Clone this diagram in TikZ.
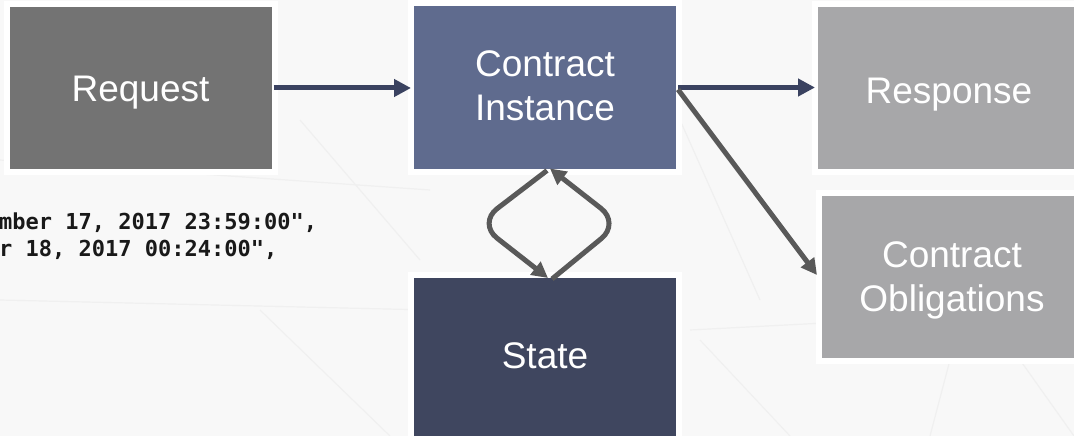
\documentclass[tikz,border=0pt]{standalone}
\usepackage{fontspec}
\setmainfont{Liberation Sans}
\newfontfamily\codefont{DejaVu Sans Mono}
\usetikzlibrary{arrows.meta,calc}

\definecolor{slidebg}{HTML}{F8F8F8}
\definecolor{faintline}{HTML}{F0F0F0}
\definecolor{reqgray}{HTML}{737373}
\definecolor{instblue}{HTML}{5F6B8E}
\definecolor{statenavy}{HTML}{3F465F}
\definecolor{outgray}{HTML}{A7A7A9}
\definecolor{navyarrow}{HTML}{3A4260}
\definecolor{grayarrow}{HTML}{595959}
\definecolor{titlemaroon}{HTML}{7B1D4E}

\tikzset{
  blockbox/.style={rectangle, minimum width=262pt, minimum height=162pt,
    inner sep=0pt, outer sep=0pt,
    preaction={draw=white, line width=12pt}},
  boxlabel/.style={text=white, inner sep=0pt, outer sep=0pt,
    font=\fontsize{37}{44}\selectfont, align=center},
  codeline/.style={anchor=base west, inner sep=0pt, text=black!90,
    font=\codefont\bfseries\fontsize{22}{27}\selectfont},
  flownavy/.style={draw=navyarrow, line width=5pt,
    -{Triangle[length=17pt,width=17pt]}},
  flowgray/.style={draw=grayarrow, line width=5pt,
    -{Triangle[length=16pt,width=16pt]}},
}

\begin{document}
\begin{tikzpicture}[x=1pt,y=-1pt]
  \useasboundingbox (0,0) rectangle (1074,436);
  \clip (0,0) rectangle (1074,436);

  % slide background with faint texture lines
  \fill[slidebg] (0,0) rectangle (1074,436);
  \begin{scope}[draw=faintline, line width=1.2pt]
    \draw (0,160) -- (430,190);
    \draw (0,300) -- (430,310);
    \draw (260,310) -- (390,436);
    \draw (300,120) -- (420,260);
    \draw (680,120) -- (760,300);
    \draw (690,330) -- (1074,310);
    \draw (700,340) -- (790,436);
    \draw (950,360) -- (930,436);
    \draw (1020,360) -- (1074,436);
  \end{scope}

  % fragment of the title above
  \fill[titlemaroon] (542,0) rectangle (548,4.5);

  % blocks
  \node[blockbox, fill=reqgray]   (req)  at (140.5,88)  {};
  \node[blockbox, fill=instblue]  (inst) at (545,87.5)  {};
  \node[blockbox, fill=statenavy] (st)   at (545,359)   {};
  \node[blockbox, fill=outgray]   (resp) at (949,88)    {};
  \node[blockbox, fill=outgray]   (obl)  at (953,277)   {};

  % block texts
  \node[boxlabel, anchor=base]  (reqtxt)  at ($(req.center)+(0,14)$)   {Request};
  \node[boxlabel, anchor=north] (insttxt) at ($(inst.center)+(0,-37)$) {Contract\\Instance};
  \node[boxlabel, anchor=base]  (sttxt)   at ($(st.center)+(0,9.5)$)   {State};
  \node[boxlabel, anchor=base]  (resptxt) at ($(resp.center)+(0,15)$)  {Response};
  \node[boxlabel, anchor=north] (obltxt)  at ($(obl.center)+(-1,-35.5)$) {Contract\\Obligations};

  % request payload excerpt
  \node[codeline] (code1) at (-1,229) {mber 17, 2017 23:59:00",};
  \node[codeline] (code2) at (-1,256) {r 18, 2017 00:24:00",};

  % flows
  \draw[flownavy, shorten <=2pt, shorten >=3pt] (req.east) -- (req.east -| inst.west);
  \draw[flownavy, shorten <=2pt, shorten >=3pt] (inst.east) -- (inst.east -| resp.west);
  \draw[flowgray] ($(inst.east)+(2,2)$) -- ($(obl.west)+(-5,-2)$);

  % state round trip
  \draw[flowgray, rounded corners=24pt]
    ($(inst.south)+(2,2)$) -- ($(inst.south)!0.5!(st.north)+(-67,0)$) -- ($(st.north)+(3,0)$);
  \draw[flowgray, rounded corners=24pt]
    ($(st.north)+(7,1)$) -- ($(inst.south)!0.5!(st.north)+(75,0)$) -- ($(inst.south)+(5,0)$);
\end{tikzpicture}
\end{document}
